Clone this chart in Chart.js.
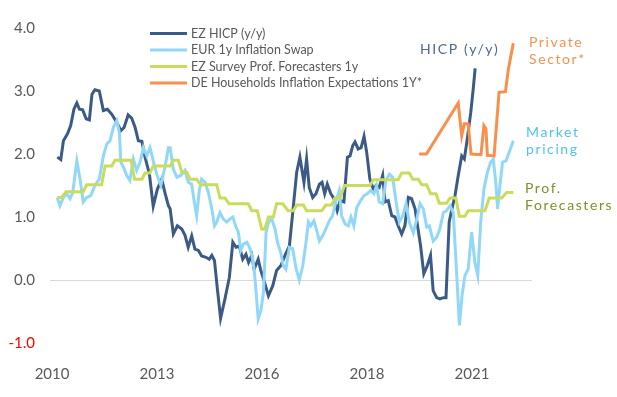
<!DOCTYPE html>
<html>
<head>
<meta charset="utf-8">
<script src="https://cdn.jsdelivr.net/npm/chart.js@4.4.1/dist/chart.umd.min.js"></script>
<style>
  html, body { margin: 0; background: #fff; }
</style>
</head>
<body>
<canvas id="chart" width="617" height="397"></canvas>
<script>
// x = months since Jan 2010 (axis units), y = % 
const TICK_MONTHS = [0, 36, 72, 108, 144];
const TICK_LABELS = ["2010", "2013", "2016", "2018", "2021"];

const HICP = [[1.8,1.95],[3.0,1.91],[3.9,2.21],[5.3,2.32],[6.4,2.45],[7.5,2.71],[8.5,2.81],[9.4,2.71],[10.5,2.70],[11.7,2.56],[12.8,2.54],[13.7,2.95],[14.7,3.02],[16.2,3.00],[17.6,2.69],[19.0,2.71],[20.5,2.63],[22.2,2.50],[23.6,2.37],[24.7,2.42],[26.1,2.62],[27.3,2.57],[28.5,2.42],[29.6,2.21],[30.8,2.20],[31.9,1.95],[33.4,1.68],[34.7,1.17],[36.1,1.44],[37.6,1.60],[38.8,1.37],[39.9,1.18],[40.5,1.13],[41.6,0.73],[43.0,0.86],[44.5,0.81],[45.6,0.71],[46.7,0.52],[47.9,0.70],[49.0,0.49],[50.2,0.47],[51.3,0.38],[52.8,0.36],[53.9,0.33],[54.8,0.39],[55.7,0.31],[56.7,-0.14],[57.8,-0.61],[59.3,-0.30],[60.8,0.04],[62.0,0.60],[63.1,0.52],[64.2,0.54],[65.4,0.33],[66.5,0.41],[67.4,0.28],[68.5,0.39],[69.3,0.17],[70.7,0.33],[71.6,0.15],[72.7,-0.01],[74.2,-0.25],[75.7,-0.09],[77.0,0.15],[78.5,0.23],[79.9,0.39],[81.4,0.54],[82.5,1.05],[83.9,1.71],[85.0,1.95],[86.4,1.55],[87.3,1.92],[88.2,1.47],[89.4,1.31],[90.5,1.37],[91.7,1.52],[92.6,1.55],[93.5,1.37],[94.4,1.52],[95.6,1.37],[96.7,1.29],[97.8,1.10],[98.8,1.26],[100.1,1.24],[101.3,1.95],[102.2,1.97],[103.1,2.13],[103.9,2.19],[105.0,2.08],[106.0,2.10],[107.0,2.28],[107.9,2.03],[109.0,1.60],[110.2,1.44],[111.1,1.50],[112.2,1.47],[113.4,1.66],[114.2,1.24],[115.3,1.26],[116.5,1.02],[117.6,1.00],[118.7,0.86],[119.9,0.73],[121.0,0.86],[122.2,1.31],[123.3,1.29],[124.5,1.13],[125.0,0.97],[126.4,0.54],[127.5,0.10],[128.7,0.23],[129.8,0.39],[130.7,-0.17],[131.9,-0.28],[133.0,-0.30],[134.2,-0.28],[135.1,-0.28],[136.2,0.92],[137.0,1.10],[138.2,1.34],[139.3,1.66],[140.5,1.97],[141.4,1.92],[142.4,2.24],[143.6,2.66],[144.5,3.06],[145.1,3.36]];

const SWAP = [[1.8,1.31],[2.7,1.18],[3.9,1.31],[5.0,1.37],[6.2,1.29],[7.1,1.39],[8.5,1.89],[9.6,1.60],[10.7,1.24],[11.9,1.31],[13.3,1.34],[14.7,1.50],[16.2,1.60],[17.6,1.97],[18.8,2.16],[19.9,2.21],[21.0,2.42],[22.2,2.53],[23.1,2.34],[23.6,1.87],[24.5,1.79],[25.6,1.66],[26.7,1.58],[27.9,1.92],[29.0,1.74],[30.2,1.87],[31.3,2.10],[32.5,1.97],[33.6,2.10],[34.7,1.89],[35.9,1.68],[37.3,1.50],[38.8,1.81],[39.9,2.10],[40.5,2.10],[41.6,1.76],[42.8,1.63],[44.1,1.66],[45.6,1.74],[46.7,1.55],[47.9,1.52],[48.7,1.26],[49.6,1.02],[50.5,1.42],[51.3,1.60],[52.5,1.55],[53.6,1.39],[54.8,1.13],[55.7,0.86],[56.5,0.92],[57.6,1.07],[58.7,0.97],[59.9,0.92],[61.0,0.97],[62.0,1.00],[63.1,0.84],[63.9,0.76],[64.7,0.47],[65.6,0.57],[66.8,0.60],[67.7,0.52],[68.5,0.41],[69.3,0.17],[69.9,-0.14],[70.7,-0.62],[71.6,-0.49],[72.5,-0.20],[73.4,0.76],[74.3,0.92],[75.3,0.97],[76.5,0.81],[77.3,0.60],[78.4,0.44],[79.3,0.23],[80.2,0.17],[81.4,0.52],[82.5,0.50],[83.7,0.18],[84.8,0.00],[86.0,0.23],[87.1,0.60],[87.9,0.92],[88.7,0.86],[89.8,0.94],[90.8,0.78],[91.7,0.62],[92.8,0.70],[93.9,0.81],[95.1,0.94],[96.2,1.02],[97.4,1.26],[98.5,1.42],[99.3,1.02],[100.5,0.89],[101.6,0.86],[102.5,1.00],[103.5,0.86],[104.5,1.15],[105.8,1.26],[107.0,1.34],[108.1,1.37],[109.3,1.42],[110.4,1.37],[111.3,1.50],[112.2,1.24],[113.4,1.21],[114.5,1.58],[115.7,1.68],[116.8,1.63],[118.0,1.24],[119.1,0.92],[120.3,1.02],[121.4,1.21],[122.5,0.92],[123.9,0.75],[125.0,0.95],[126.2,1.21],[127.3,1.13],[128.5,0.84],[129.4,0.86],[130.7,0.62],[131.9,0.68],[133.0,0.81],[134.2,1.07],[135.3,1.10],[136.5,1.18],[137.6,1.07],[138.8,0.07],[139.7,-0.72],[140.6,-0.25],[141.6,0.07],[142.7,0.17],[143.9,0.76],[145.0,0.28],[146.0,0.07],[147.0,0.92],[148.1,1.44],[149.3,1.71],[150.4,1.87],[151.3,1.92],[152.2,1.55],[152.8,1.13],[153.6,1.50],[154.5,1.87],[155.7,1.89],[156.8,2.03],[158.2,2.21]];

const SURVEY = [[1.8,1.31],[3.3,1.31],[4.8,1.40],[10.7,1.40],[11.9,1.51],[17.0,1.51],[18.2,1.81],[20.5,1.81],[21.6,1.90],[27.1,1.90],[28.3,1.60],[30.8,1.60],[31.9,1.70],[33.6,1.70],[34.7,1.81],[40.5,1.81],[41.6,1.90],[43.3,1.90],[44.5,1.71],[46.2,1.71],[47.3,1.60],[49.6,1.60],[50.9,1.51],[56.5,1.51],[57.6,1.30],[59.3,1.30],[60.7,1.21],[67.3,1.21],[68.5,1.10],[70.4,1.10],[71.9,0.81],[73.0,0.81],[74.2,1.00],[75.9,1.00],[77.0,1.21],[79.1,1.21],[81.0,1.10],[82.7,1.10],[83.9,1.19],[86.2,1.19],[87.3,1.10],[92.5,1.10],[93.9,1.19],[95.9,1.19],[97.0,1.30],[98.7,1.30],[100.3,1.50],[109.0,1.50],[110.2,1.59],[118.7,1.59],[119.9,1.70],[122.5,1.70],[123.7,1.60],[125.6,1.60],[126.8,1.51],[128.5,1.51],[129.8,1.37],[131.7,1.37],[132.8,1.22],[135.3,1.22],[136.5,1.30],[138.5,1.30],[139.7,1.01],[141.6,1.01],[142.7,1.10],[148.5,1.10],[149.9,1.30],[154.2,1.30],[155.9,1.39],[158.2,1.39]];

const DE_HH = [[125.9,2.00],[128.4,2.00],[139.3,2.81],[140.5,2.29],[141.4,2.48],[142.7,2.48],[143.7,2.00],[147.1,1.99],[148.1,2.45],[148.8,2.40],[149.3,1.98],[151.6,1.97],[153.3,2.98],[155.5,2.99],[156.5,3.35],[158.2,3.76]];

const SERIES = [
  { label: "EZ HICP (y/y)", data: HICP, color: "#3c5a86", order: 4 },
  { label: "EUR 1y Inflation Swap", data: SWAP, color: "#91d8f8", order: 3 },
  { label: "EZ Survey Prof. Forecasters 1y", data: SURVEY, color: "#c9dc5c", order: 2 },
  { label: "DE Households Inflation Expectations 1Y*", data: DE_HH, color: "#f98f4d", order: 1 },
];

const NOTES = [
  { lines: ["HICP (y/y)"], color: "#4d6a94", x: 420, y: 49 },
  { lines: ["Private", "Sector*"], color: "#f7914d", x: 529, y: 42 },
  { lines: ["Market", "pricing"], color: "#4fc3f0", x: 526, y: 132 },
  { lines: ["Prof.", "Forecasters"], color: "#7f8f2a", x: 525, y: 188 },
];

const FONT = "Lato, 'Open Sans', sans-serif";
const GREY = "#595959";

const legendPlugin = {
  id: "insideLegend",
  afterDraw(chart) {
    const ctx = chart.ctx;
    ctx.save();
    ctx.font = `12.5px ${FONT}`;
    ctx.textBaseline = "middle";
    chart.data.datasets.forEach((ds, i) => {
      const y = 33.5 + i * 16.5;
      ctx.strokeStyle = ds.borderColor;
      ctx.lineWidth = 3;
      ctx.beginPath();
      ctx.moveTo(150, y);
      ctx.lineTo(187, y);
      ctx.stroke();
      ctx.fillStyle = GREY;
      ctx.fillText(ds.label, 191, y);
    });
    ctx.restore();
  },
};

const notesPlugin = {
  id: "seriesNotes",
  afterDraw(chart) {
    const ctx = chart.ctx;
    ctx.save();
    ctx.font = `14px ${FONT}`;
    ctx.letterSpacing = "1.6px";
    ctx.textBaseline = "middle";
    NOTES.forEach((n) => {
      ctx.fillStyle = n.color;
      n.lines.forEach((t, i) => ctx.fillText(t, n.x, n.y + i * 17));
    });
    ctx.restore();
  },
};

new Chart(document.getElementById("chart"), {
  type: "line",
  data: {
    datasets: SERIES.map((s) => ({
      label: s.label,
      data: s.data.map(([x, y]) => ({ x, y })),
      borderColor: s.color,
      backgroundColor: s.color,
      borderWidth: 3,
      pointRadius: 0,
      tension: 0,
      order: s.order,
    })),
  },
  options: {
    responsive: false,
    animation: false,
    layout: { padding: { top: 28, right: 85, left: 0, bottom: 0 } },
    plugins: { legend: { display: false }, tooltip: { enabled: false } },
    scales: {
      x: {
        type: "linear",
        min: -0.7,
        max: 164.6,
        afterBuildTicks: (scale) => {
          scale.ticks = TICK_MONTHS.map((v) => ({ value: v }));
        },
        afterFit: (scale) => { scale.height = 54; },
        grid: { display: false },
        border: { display: false },
        ticks: {
          callback: (v, i) => TICK_LABELS[i],
          color: GREY,
          font: { family: FONT, size: 15 },
          padding: 14,
          maxRotation: 0,
          autoSkip: false,
        },
      },
      y: {
        min: -1,
        max: 4,
        afterFit: (scale) => { scale.width = 50; },
        grid: {
          drawTicks: false,
          color: (c) => (c.tick && c.tick.value === 0 ? "#d9d9d9" : "rgba(0,0,0,0)"),
          lineWidth: 1,
        },
        border: { display: false },
        ticks: {
          stepSize: 1,
          callback: (v) => Number(v).toFixed(1),
          color: (c) => (c.tick && c.tick.value < 0 ? "#ff0000" : GREY),
          font: { family: FONT, size: 15 },
          padding: 15,
        },
      },
    },
  },
  plugins: [legendPlugin, notesPlugin],
});
</script>
</body>
</html>
